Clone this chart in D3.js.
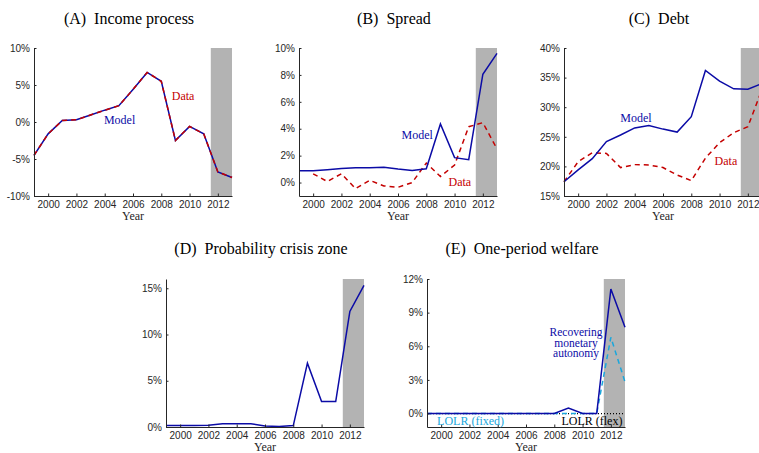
<!DOCTYPE html>
<html>
<head>
<meta charset="utf-8">
<script src="https://cdn.jsdelivr.net/npm/d3@7"></script>
<style>
  body { margin: 0; background: #fff; }
  svg { display: block; }
  .tick text { font-family: "Liberation Sans", Arial, Helvetica, sans-serif; font-size: 10px; fill: #262626; }
  .title { font-family: "Liberation Serif", "Times New Roman", "DejaVu Serif", serif; font-size: 16px; fill: #000; }
  .xlab { font-family: "Liberation Serif", "Times New Roman", "DejaVu Serif", serif; font-size: 12px; fill: #262626; }
  .lab { font-family: "Liberation Serif", "Times New Roman", "DejaVu Serif", serif; font-size: 12px; }
</style>
</head>
<body>
<div id="main"></div>
<script>
var width = 759,
    height = 453;

// years shared by all panels
var years = [1999, 2000, 2001, 2002, 2003, 2004, 2005, 2006, 2007, 2008, 2009, 2010, 2011, 2012, 2013];
var yearTicks = [2000, 2002, 2004, 2006, 2008, 2010, 2012];

// (A) income process, %
var incomeModel = [-4.5, -1.6, 0.2, 0.3, 0.95, 1.6, 2.2, 4.4, 6.7, 5.5, -2.5, -0.6, -1.6, -6.75, -7.5];
var incomeData  = [-4.5, -1.6, 0.2, 0.3, 0.95, 1.6, 2.2, 4.4, 6.7, 5.5, -2.5, -0.6, -1.6, -6.75, -7.5];

// (B) spread, % (data begins in 2000)
var spreadModel = [0.87, 0.87, 0.95, 1.05, 1.1, 1.1, 1.13, 1.0, 0.9, 1.02, 4.35, 1.85, 1.7, 8.05, 9.6];
var spreadData  = [null, 0.65, 0.08, 0.65, -0.45, 0.17, -0.25, -0.35, 0.0, 1.45, 0.45, 1.3, 4.15, 4.45, 2.5];

// (C) debt, %
var debtModel = [17.4, 19.4, 21.3, 24.2, 25.3, 26.5, 26.9, 26.3, 25.8, 28.4, 36.2, 34.4, 33.1, 33.05, 34.0];
var debtData  = [17.4, 20.8, 22.3, 22.2, 19.8, 20.3, 20.25, 19.8, 18.55, 17.6, 21.4, 24.0, 25.7, 26.7, 33.0];

// (D) probability crisis zone, %
var crisisProb = [0.15, 0.15, 0.15, 0.2, 0.35, 0.35, 0.35, 0.1, 0.05, 0.15, 6.9, 2.75, 2.75, 12.5, 15.3];

// (E) one-period welfare, %
var welfareAutonomy = [0, 0, 0, 0, 0, 0, 0, 0, 0, 0, 0.48, 0, 0, 11.1, 7.7];
var welfareFixed    = [0, 0, 0, 0, 0, 0, 0, 0, 0, 0, 0, 0, 0, 6.8, 2.82];
var welfareFlex     = [0, 0, 0, 0, 0, 0, 0, 0, 0, 0, 0, 0, 0, 0, 0];

var blue = "#0b0ba6",
    red = "#c40000",
    cyan = "#1aa7dc",
    shade = "#b3b3b3",
    axisCol = "#262626";

var svg = d3.select("#main").append("svg")
    .attr("width", width)
    .attr("height", height);

function drawPanel(p) {
  var g = svg.append("g").attr("transform", "translate(" + p.left + "," + p.top + ")");
  var w = 198, h = p.h;

  var x = d3.scaleLinear().domain([1999, 2013]).range([0, w]);
  var y = d3.scaleLinear().domain(p.ydomain).range([h, 0]);

  // shaded crisis years
  g.append("rect")
    .attr("x", x(2011.5))
    .attr("y", 0)
    .attr("width", x(2013) - x(2011.5))
    .attr("height", h)
    .attr("fill", shade);

  var line = d3.line()
    .defined(function(d) { return d != null; })
    .x(function(d, i) { return x(years[i]); })
    .y(function(d) { return y(d); });

  p.series.forEach(function(s) {
    g.append("path")
      .datum(s.values)
      .attr("d", line)
      .attr("fill", "none")
      .attr("stroke", s.color)
      .attr("stroke-width", s.width || 1.5)
      .attr("stroke-dasharray", s.dash || null);
  });

  var xAxis = g.append("g")
    .attr("transform", "translate(0," + h + ")")
    .call(d3.axisBottom(x).tickValues(yearTicks).tickFormat(d3.format("d"))
      .tickSizeInner(-2.5).tickSizeOuter(0).tickPadding(5));
  var yAxis = g.append("g")
    .call(d3.axisLeft(y).tickValues(p.yticks).tickFormat(function(d) { return d + "%"; })
      .tickSizeInner(-2.5).tickSizeOuter(0).tickPadding(4));

  [xAxis, yAxis].forEach(function(a) {
    a.attr("font-family", null).attr("font-size", null);
    a.select(".domain").attr("stroke", axisCol);
    a.selectAll(".tick line").attr("stroke", axisCol);
  });

  g.append("text")
    .attr("class", "title")
    .attr("x", w / 2 - 4)
    .attr("y", p.titleY)
    .attr("text-anchor", "middle")
    .attr("xml:space", "preserve")
    .text(p.title);

  g.append("text")
    .attr("class", "xlab")
    .attr("x", x(2006))
    .attr("y", h + 24)
    .attr("text-anchor", "middle")
    .text("Year");

  p.labels.forEach(function(l) {
    var t = g.append("text")
      .attr("class", "lab")
      .attr("fill", l.color)
      .attr("text-anchor", "middle")
      .style("font-size", l.size || null);
    l.text.forEach(function(s, i) {
      t.append("tspan")
        .attr("x", x(l.x))
        .attr("y", y(l.y) + i * 10.5)
        .text(s);
    });
  });
}

drawPanel({
  left: 34, top: 48, h: 148, titleY: -24,
  title: "(A)  Income process",
  ydomain: [-10, 10], yticks: [-10, -5, 0, 5, 10],
  series: [
    { values: incomeModel, color: blue },
    { values: incomeData, color: red, dash: "5,4" }
  ],
  labels: [
    { text: ["Model"], x: 2005.05, y: -0.27, color: blue },
    { text: ["Data"], x: 2009.54, y: 2.97, color: red }
  ]
});

drawPanel({
  left: 299, top: 48, h: 148, titleY: -24,
  title: "(B)  Spread",
  ydomain: [-1, 10], yticks: [0, 2, 4, 6, 8, 10],
  series: [
    { values: spreadData, color: red, dash: "5,4" },
    { values: spreadModel, color: blue }
  ],
  labels: [
    { text: ["Model"], x: 2007.36, y: 3.25, color: blue },
    { text: ["Data"], x: 2010.37, y: -0.22, color: red }
  ]
});

drawPanel({
  left: 564, top: 48, h: 148, titleY: -24,
  title: "(C)  Debt",
  ydomain: [15, 40], yticks: [15, 20, 25, 30, 35, 40],
  series: [
    { values: debtData, color: red, dash: "5,4" },
    { values: debtModel, color: blue }
  ],
  labels: [
    { text: ["Model"], x: 2004.09, y: 27.43, color: blue },
    { text: ["Data"], x: 2010.45, y: 20.25, color: red }
  ]
});

drawPanel({
  left: 166, top: 279, h: 148, titleY: -25,
  title: "(D)  Probability crisis zone",
  ydomain: [0, 16], yticks: [0, 5, 10, 15],
  series: [
    { values: crisisProb, color: blue }
  ],
  labels: []
});

drawPanel({
  left: 427, top: 279, h: 148, titleY: -25,
  title: "(E)  One-period welfare",
  ydomain: [-1.2, 12], yticks: [0, 3, 6, 9, 12],
  series: [
    { values: welfareFlex, color: "#000", dash: "1,2", width: 1.2 },
    { values: welfareFixed, color: cyan, dash: "5,4" },
    { values: welfareAutonomy, color: blue }
  ],
  labels: [
    { text: ["Recovering", "monetary", "autonomy"], x: 2009.54, y: 6.9, color: blue, size: "11.5px" },
    { text: ["LOLR (fixed)"], x: 2002.08, y: -1.0, color: cyan },
    { text: ["LOLR (flex)"], x: 2010.66, y: -1.0, color: "#000" }
  ]
});
</script>
</body>
</html>
